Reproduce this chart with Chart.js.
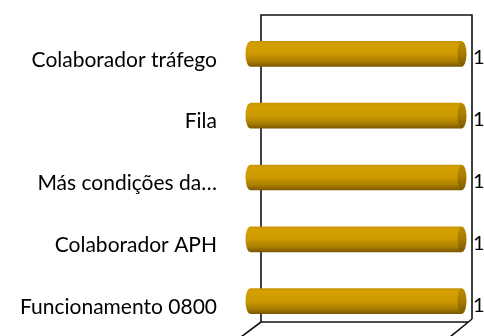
<!DOCTYPE html>
<html>
<head>
<meta charset="utf-8">
<script src="https://cdn.jsdelivr.net/npm/chart.js@4"></script>
<style>
  body { margin: 0; background: #fff; }
  #wrap { width: 484px; height: 336px; }
</style>
</head>
<body>
<div id="wrap"><canvas id="chart" width="484" height="336"></canvas></div>
<script>
// data for the bar chart
const categories = ['Colaborador tráfego', 'Fila', 'Más condições da…', 'Colaborador APH', 'Funcionamento 0800'];
const values = [1, 1, 1, 1, 1];

const FONT = 'Lato, Calibri, Carlito, sans-serif';

// gold cylinder gradient for one bar
function barGradient(ctx, top, bottom) {
    const g = ctx.createLinearGradient(0, top, 0, bottom);
    g.addColorStop(0, '#c89400');
    g.addColorStop(0.12, '#d4a000');
    g.addColorStop(0.5, '#cc9900');
    g.addColorStop(0.8, '#ab7f00');
    g.addColorStop(1, '#7c5900');
    return g;
}

// back wall and floor edges of the 3d box
const wallPlugin = {
    id: 'wall',
    beforeDatasetsDraw(chart) {
        const ctx = chart.ctx;
        const a = chart.chartArea;
        const left = a.left + 11, right = a.right + 10;
        const top = a.top - 8, bottom = a.bottom - 10;
        ctx.save();
        ctx.strokeStyle = '#111';
        ctx.lineWidth = 1.6;
        ctx.beginPath();
        ctx.moveTo(left, bottom);
        ctx.lineTo(left, top);
        ctx.lineTo(right, top);
        ctx.lineTo(right, bottom - 3);
        ctx.moveTo(left, bottom);
        ctx.lineTo(right - 3, bottom);
        ctx.moveTo(left, bottom);
        ctx.lineTo(left - 20, bottom + 15);
        ctx.moveTo(right, bottom - 3);
        ctx.lineTo(right - 22, bottom + 15);
        ctx.stroke();
        ctx.restore();
    }
};

// rounded ends of the cylinders and value labels
const cylinderPlugin = {
    id: 'cylinder',
    afterDatasetsDraw(chart) {
        const ctx = chart.ctx;
        const meta = chart.getDatasetMeta(0);
        ctx.save();
        meta.data.forEach((bar, i) => {
            const p = bar.getProps(['x', 'y', 'base', 'height'], true);
            const top = p.y - p.height / 2, bottom = p.y + p.height / 2;
            const rx = 4.5, ry = p.height / 2;
            // left bulge
            ctx.fillStyle = barGradient(ctx, top, bottom);
            ctx.beginPath();
            ctx.ellipse(p.base, p.y, rx, ry, 0, Math.PI / 2, Math.PI * 1.5);
            ctx.fill();
            // right end face
            const g = ctx.createLinearGradient(0, top, 0, bottom);
            g.addColorStop(0, '#b88a00');
            g.addColorStop(0.5, '#a67b00');
            g.addColorStop(1, '#7c5900');
            ctx.fillStyle = g;
            ctx.beginPath();
            ctx.ellipse(p.x, p.y, rx, ry, 0, 0, Math.PI * 2);
            ctx.fill();
            // value label
            ctx.fillStyle = '#000';
            ctx.font = '20px ' + FONT;
            ctx.textBaseline = 'middle';
            ctx.textAlign = 'left';
            ctx.fillText(String(values[i]), p.x + 11, p.y + 4);
        });
        ctx.restore();
    }
};

function renderChart() {
    const ctx = document.getElementById('chart').getContext('2d');
    new Chart(ctx, {
        type: 'bar',
        data: {
            labels: categories,
            datasets: [{
                data: values,
                barThickness: 25,
                borderWidth: 0,
                backgroundColor: function(c) {
                    const chart = c.chart;
                    if (!chart.chartArea || c.dataIndex === undefined) return '#cc9900';
                    const y = chart.scales.y.getPixelForValue(c.dataIndex);
                    return barGradient(chart.ctx, y - 12.5, y + 12.5);
                }
            }]
        },
        plugins: [wallPlugin, cylinderPlugin],
        options: {
            indexAxis: 'y',
            responsive: false,
            animation: false,
            layout: { padding: { top: 23, bottom: 4, left: 0, right: 22 } },
            plugins: {
                legend: { display: false },
                tooltip: { enabled: false }
            },
            scales: {
                x: {
                    display: false,
                    min: 0,
                    max: 1
                },
                y: {
                    grid: { display: false, drawTicks: false },
                    border: { display: false },
                    afterFit: function(scale) {
                        scale.width = 250;
                        scale.paddingTop = 0;
                        scale.paddingBottom = 0;
                    },
                    ticks: {
                        padding: 33,
                        labelOffset: 6,
                        color: '#000',
                        font: { family: FONT, size: 21 }
                    }
                }
            }
        }
    });
}

document.addEventListener('DOMContentLoaded', function() {
    renderChart();
});
</script>
</body>
</html>
